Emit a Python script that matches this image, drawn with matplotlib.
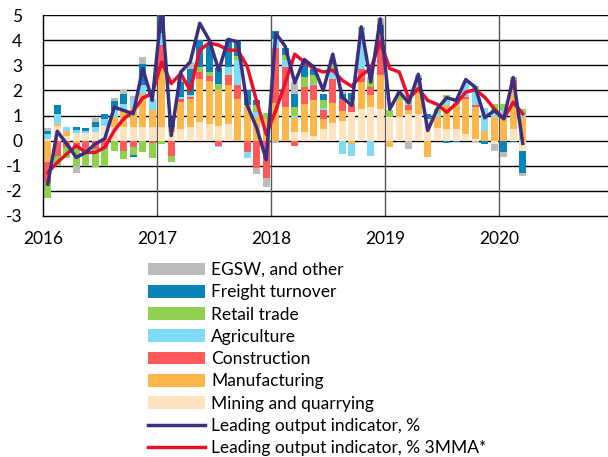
import numpy as np
import matplotlib
matplotlib.use("Agg")
import matplotlib.pyplot as plt

plt.rcParams['font.family'] = ['Lato', 'DejaVu Sans']

# monthly contributions, Jan 2016 - Mar 2020 (pp)
mining = [0.05, 0.6, 0.2, 0.3, 0.3, 0.35, 0.6, 0.53, 0.53, 0.53,
          0.53, 0.55, 0.55, 0.35, 0.47, 0.53, 0.73, 0.67, 0.6, 0.67,
          0, 0, 0, 0, 0, 0, 0.33, 0.33, 0.2, 0.47,
          0.7, 0.78, 1.13, 1.27, 1.35, 1.27, 0.93, 0.93, 1.07, 1.07,
          0.87, 0.5, 0.47, 0.47, 0.27, 0.05, 0, -0.13, 0, 0.47, -0.4]
manufacturing = [-0.87, 0.05, 0.2, -0.1, 0, 0, 0, 0.4, 0.67, 0.8,
                 1.33, 0.65, 2.35, 0.15, 1.07, 1.13, 1.73, 1.7, 1.4, 1.53,
                 1.67, 1.4, 0.93, 0.85, 1.5, 1.33, 0.57, 1.13, 1.4, 0.4,
                 0.8, 0.4, -0.13, 1.07, 0.45, 1.33, -0.25, 0.67, 0.13, 1.13,
                 -0.65, 0.5, 0.93, 0.93, 1.4, 1.3, 0.4, 0.93, 1.0, 1.53, 0.93]
construction = [-0.8, -0.6, -0.25, -0.15, -0.4, -0.35, -0.3, 0, -0.4, -0.27,
                0, -0.1, 0.9, -0.6, 0.13, 0.07, 0.27, 0.2, -0.2, 0.4,
                0.53, -0.45, -1.07, -1.5, 2.2, 1.6, -0.2, 0.67, 0.6, 0.36,
                0.95, 0.47, 0.33, 0.53, 0.35, 1.53, 0, 0, 0.2, 0,
                0, 0, 0, 0, 0.07, 0.07, 0, 0, 0, 0.4, 0]
agriculture = [0.2, 0.4, 0.16, 0.13, 0.1, 0.2, 0.27, 0.3, 0.27, 0.33,
               0.35, 0.47, 0.5, 0.05, 0.07, 0.07, 0, 0, -0.07, 0.33,
               1.0, -0.25, 0.2, 0, 0.35, 0.27, 0.1, 0, 0.07, 0.07,
               0.35, -0.55, -0.5, 1.53, -0.6, 0, 0, 0, 0.07, 0.2,
               0, 0.1, 0.2, 0.3, 0.6, 0.6, 0.9, 0.3, 0.2, 0, 0.13]
retail = [-0.6, -0.4, -0.45, -0.75, -0.6, -0.7, -0.7, -0.4, -0.35, -0.3,
          -0.47, -0.6, -0.15, -0.25, 0, 0, 0.2, 0.17, 0.27, 0,
          0.15, 0, 0.27, 0.25, 0, 0.2, 0.33, 0.4, 0.33, 0.33,
          0.25, 0, 0.15, 0.13, 0.3, 0.15, 0.27, 0.2, 0.2, 0,
          0, 0.17, 0.2, 0, 0, 0.15, 0, 0.24, 0.27, 0.13, 0.2]
freight = [0.15, 0.35, 0, 0.1, 0.1, 0.2, 0.2, 0.35, 0.4, -0.1,
           0.85, 0, 1.0, 0.4, 0.6, 1.07, 1.07, 1.07, 0.63, 1.13,
           0.6, 0.6, 0.2, 0, 0.3, 0.27, 0.53, 0.67, 0.27, 0.23,
           0.15, 0.2, 0.3, 0, 0, 0.33, 0, 0, 0, 0.1,
           0.2, 0, -0.08, -0.05, 0, 0, -0.12, 0, -0.47, -0.05, -0.87]
egsw = [0.1, 0, 0, -0.27, 0, 0.15, 0, 0.13, 0.13, 0.13,
        0.27, 0, 0, 0, 0.1, 0.27, 0, 0, 0, 0,
        0, 0, -0.27, -0.33, -0.1, 0, 0.47, 0, 0, 0,
        0, 0.13, 0, 0, 0.1, 0.27, 0, 0, -0.33, 0.13,
        0, 0, 0, 0, 0, -0.05, 0, -0.3, -0.2, 0, -0.13]

lead = [-1.73, 0.37, -0.13, -0.67, -0.47, -0.13, 0.07, 1.33, 1.2, 1.07,
        2.87, 1.6, 5.3, 0.2, 2.73, 3.13, 4.67, 4.0, 2.8, 4.03,
        3.93, 1.4, 0.5, -0.77, 4.27, 3.75, 2.3, 3.23, 2.93, 2.0,
        3.44, 1.73, 1.4, 4.53, 2.33, 4.85, 1.25, 1.95, 1.5, 2.64,
        0.4, 1.27, 1.71, 1.6, 2.43, 2.13, 0.91, 1.2, 0.87, 2.51, -0.11]
lead_3mma = [-1.27, -0.87, -0.53, -0.2, -0.47, -0.47, -0.27, 0.4, 0.87, 1.17,
             1.7, 1.87, 3.13, 2.27, 2.67, 2.0, 3.6, 3.89, 3.8, 3.6,
             3.6, 2.95, 1.55, 0.25, 1.2, 2.3, 3.44, 3.13, 2.87, 2.73,
             2.8, 2.4, 2.16, 2.6, 2.87, 3.93, 2.87, 2.73, 1.67, 2.07,
             1.6, 1.44, 1.13, 1.47, 1.93, 2.03, 1.73, 1.27, 0.87, 1.53, 1.07]

years = [2016, 2017, 2018, 2019, 2020]

components = [
    ('Mining and quarrying', mining, '#fde3c0'),
    ('Manufacturing', manufacturing, '#fdb64c'),
    ('Construction', construction, '#ff5a5a'),
    ('Agriculture', agriculture, '#80dcf5'),
    ('Retail trade', retail, '#8fd14f'),
    ('Freight turnover', freight, '#0a84b8'),
    ('EGSW, and other', egsw, '#bbbbbb'),
]

n = len(lead)
x = 2016 + (np.arange(n) + 0.5) / 12.0

fig = plt.figure(figsize=(6.08, 4.57), dpi=100)
ax = fig.add_axes([43/608, 1 - 216/457, 1 - 43/608, 201/457])

pos_base = np.zeros(n)
neg_base = np.zeros(n)
bars = {}
for name, vals, col in components:
    v = np.array(vals, dtype=float)
    p = np.where(v > 0, v, 0)
    m = np.where(v < 0, v, 0)
    bars[name] = ax.bar(x, p, width=0.062, bottom=pos_base, color=col, zorder=2)
    ax.bar(x, m, width=0.062, bottom=neg_base, color=col, zorder=2)
    pos_base += p
    neg_base += m

l1, = ax.plot(x, lead, color='#3d2f7f', lw=2.5, zorder=4)
l2, = ax.plot(x, lead_3mma, color='#e8112d', lw=2.5, zorder=3)

ax.set_xlim(2016, 2016 + 565/114)
ax.set_ylim(-3, 5)
ax.set_yticks(range(-3, 6))
ax.set_yticklabels([str(t) for t in range(-3, 6)])
ax.set_xticks(years)
ax.set_xticklabels([str(y) for y in years])
ax.tick_params(length=0, labelsize=12.5)
ax.tick_params(axis='y', pad=15)
ax.tick_params(axis='x', pad=11)
for t in range(-2, 6):
    ax.axhline(t, color='black', lw=1, zorder=1)
for yr in years[1:]:
    ax.axvline(yr, color='#555555', lw=1, zorder=1)
for s in ['top', 'right']:
    ax.spines[s].set_visible(False)
ax.spines['left'].set_linewidth(1)
ax.spines['bottom'].set_linewidth(1)

order = ['EGSW, and other', 'Freight turnover', 'Retail trade', 'Agriculture',
         'Construction', 'Manufacturing', 'Mining and quarrying']
handles = [bars[k] for k in order] + [l1, l2]
labels = order + ['Leading output indicator, %', 'Leading output indicator, % 3MMA*']
fig.legend(handles, labels, loc='upper left',
           bbox_to_anchor=(148/608, 1 - 262/457), bbox_transform=fig.transFigure,
           frameon=False, borderpad=0, borderaxespad=0, fontsize=12.5,
           handlelength=3.3, handleheight=0.75, handletextpad=0.35,
           labelspacing=0.36)

fig.savefig('out.png', dpi=100)
